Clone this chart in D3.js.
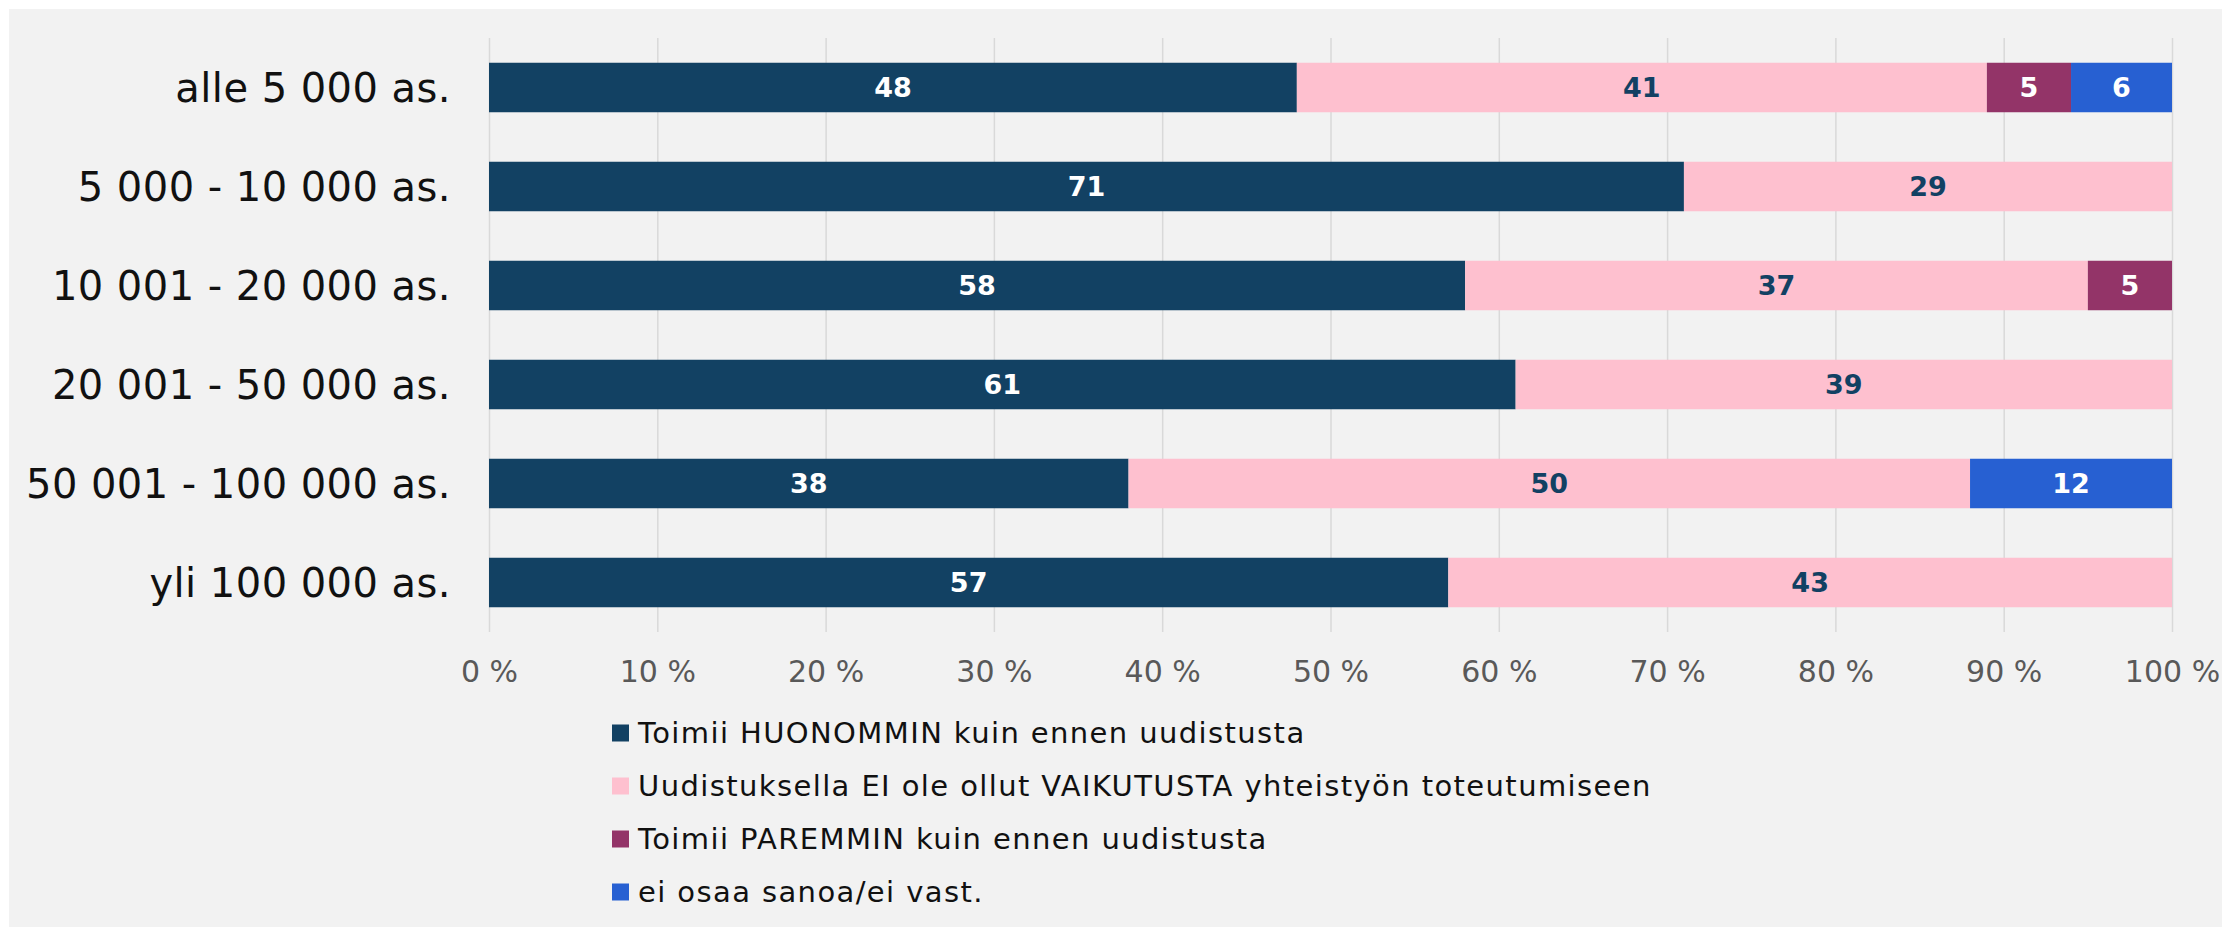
<!DOCTYPE html>
<html>
<head>
<meta charset="utf-8">
<script src="https://cdn.jsdelivr.net/npm/d3@7"></script>
<style>
  body { margin: 0; background: #ffffff; }
  svg { display: block; }
  text { font-family: "DejaVu Sans", sans-serif; }
</style>
</head>
<body>
<div id="chart"></div>
<script>
(function(){

    var width = 2222;
    var height = 927;

    // categories (top to bottom)
    var categories = [
        "alle 5 000 as.",
        "5 000 - 10 000 as.",
        "10 001 - 20 000 as.",
        "20 001 - 50 000 as.",
        "50 001 - 100 000 as.",
        "yli 100 000 as."
    ];

    // series, one value per category
    var seriesNames = [
        "Toimii HUONOMMIN kuin ennen uudistusta",
        "Uudistuksella EI ole ollut VAIKUTUSTA yhteistyön toteutumiseen",
        "Toimii PAREMMIN kuin ennen uudistusta",
        "ei osaa sanoa/ei vast."
    ];
    var huonommin = [48, 71, 58, 61, 38, 57];
    var eiVaikutusta = [41, 29, 37, 39, 50, 43];
    var paremmin = [5, 0, 5, 0, 0, 0];
    var eiOsaa = [6, 0, 0, 0, 12, 0];

    var xTicks = [0, 10, 20, 30, 40, 50, 60, 70, 80, 90, 100];

    var colors = ["#124163", "#fec0cf", "#933468", "#2760d2"];
    var labelColors = ["#ffffff", "#124163", "#ffffff", "#ffffff"];

    var keys = ["a", "b", "c", "d"];
    var rows = categories.map(function(c, i) {
        return { cat: c, a: huonommin[i], b: eiVaikutusta[i], c: paremmin[i], d: eiOsaa[i] };
    });

    var svg = d3.select("#chart")
        .append("svg")
        .attr("width", width)
        .attr("height", height);

    // grey panel
    svg.append("rect")
        .attr("x", 9).attr("y", 9)
        .attr("width", width - 9).attr("height", height - 9)
        .attr("fill", "#f2f2f2");

    var plotTop = 38, plotBottom = 632;

    var x = d3.scaleLinear().domain([0, 100]).range([489, 2172]);
    var y = d3.scaleBand()
        .domain(categories)
        .range([plotTop, plotBottom])
        .paddingInner(0.5)
        .paddingOuter(0.25);

    // gridlines
    var grid = svg.append("g")
        .attr("transform", "translate(0," + plotBottom + ")")
        .call(d3.axisBottom(x).tickValues(xTicks).tickSize(-(plotBottom - plotTop)).tickFormat(""));
    grid.select(".domain").remove();
    grid.selectAll("line").attr("stroke", "#d9d9d9").attr("stroke-width", 1.5);

    // x tick labels
    var xAxis = svg.append("g")
        .attr("transform", "translate(0," + plotBottom + ")")
        .call(d3.axisBottom(x).tickValues(xTicks).tickSize(0).tickFormat(function(d) { return d + " %"; }));
    xAxis.select(".domain").remove();
    xAxis.selectAll("text")
        .attr("y", 50).attr("dy", 0)
        .attr("fill", "#595959")
        .style("font-size", "30px")
        .style("font-family", "DejaVu Sans, sans-serif");

    // category labels
    svg.append("g").selectAll("text")
        .data(categories)
        .enter()
        .append("text")
        .attr("x", 451)
        .attr("y", function(d) { return y(d) + y.bandwidth() / 2; })
        .attr("dy", "0.35em")
        .attr("text-anchor", "end")
        .attr("fill", "#111111")
        .style("font-size", "40px")
        .style("letter-spacing", "0.45px")
        .text(function(d) { return d; });

    var stacked = d3.stack().keys(keys)(rows);

    var layers = svg.append("g").selectAll("g")
        .data(stacked)
        .enter()
        .append("g")
        .attr("fill", function(d, i) { return colors[i]; });

    layers.selectAll("rect")
        .data(function(d) { return d; })
        .enter()
        .append("rect")
        .attr("x", function(d) { return x(d[0]); })
        .attr("y", function(d) { return y(d.data.cat); })
        .attr("width", function(d) { return x(d[1]) - x(d[0]); })
        .attr("height", y.bandwidth());

    // value labels
    stacked.forEach(function(layer, li) {
        svg.append("g").selectAll("text")
            .data(layer.filter(function(d) { return d[1] - d[0] > 0; }))
            .enter()
            .append("text")
            .attr("x", function(d) { return (x(d[0]) + x(d[1])) / 2; })
            .attr("y", function(d) { return y(d.data.cat) + y.bandwidth() / 2; })
            .attr("dy", "0.36em")
            .attr("text-anchor", "middle")
            .attr("fill", labelColors[li])
            .style("font-size", "27px")
            .style("font-weight", "bold")
            .text(function(d) { return d[1] - d[0]; });
    });

    // legend
    var legend = svg.append("g").selectAll("g")
        .data(seriesNames)
        .enter()
        .append("g")
        .attr("transform", function(d, i) { return "translate(612," + (733 + i * 53) + ")"; });

    legend.append("rect")
        .attr("x", 0).attr("y", -8.5)
        .attr("width", 17).attr("height", 17)
        .attr("fill", function(d, i) { return colors[i]; });

    legend.append("text")
        .attr("x", 26)
        .attr("y", 0)
        .attr("dy", "0.35em")
        .attr("fill", "#111111")
        .style("font-size", "29px")
        .style("letter-spacing", "1.4px")
        .text(function(d) { return d; });

})();
</script>
</body>
</html>
